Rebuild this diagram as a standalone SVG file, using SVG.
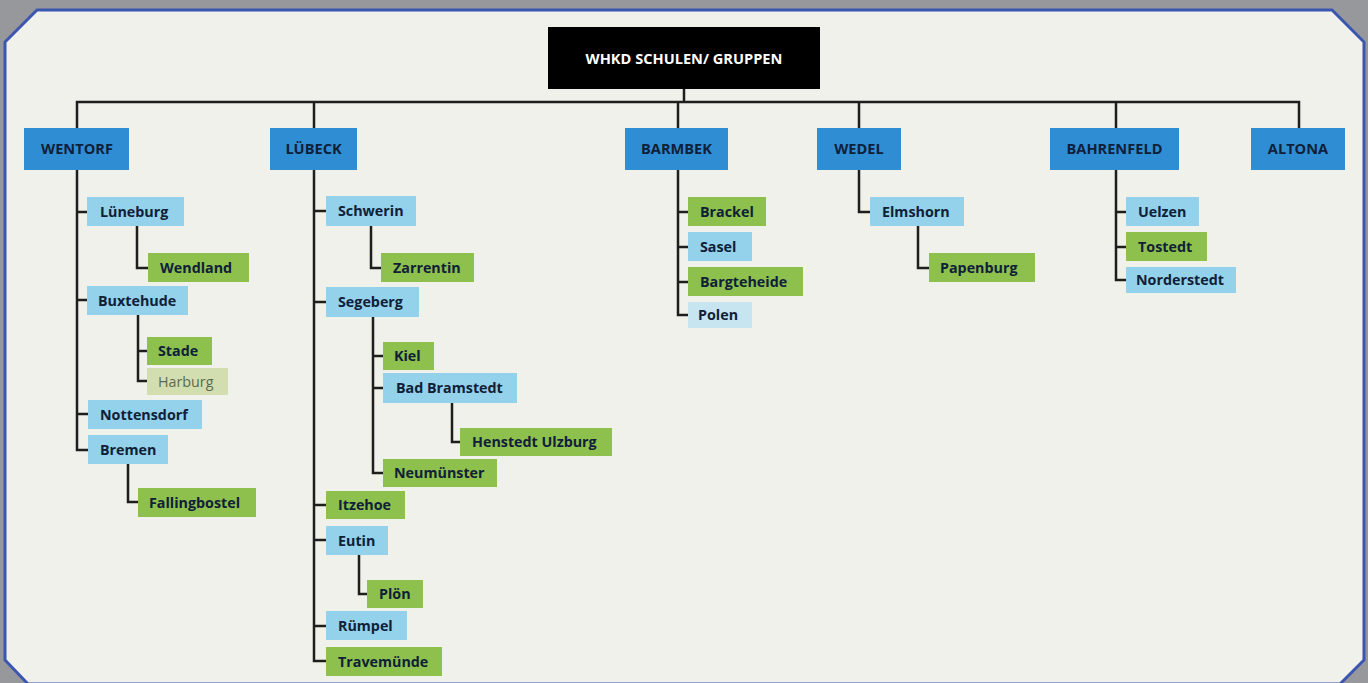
<svg xmlns="http://www.w3.org/2000/svg" width="1368" height="683" viewBox="0 0 1368 683">
<style>
.top{fill:#2f8dd4}
.lb{fill:#93d2ea}
.gr{fill:#8dc04c}
.pg{fill:#d2deb0}
.pb{fill:#c6e5f1}
.t{font-family:"Open Sans","Liberation Sans",sans-serif;font-weight:bold;font-size:14.3px;fill:#102038}
.th{font-family:"Open Sans","Liberation Sans",sans-serif;font-weight:bold;font-size:14.6px;fill:#102038;text-anchor:middle}
.tl{font-family:"Open Sans","Liberation Sans",sans-serif;font-size:14.3px;fill:#5a6a50}
.c{fill:none;stroke:#1e1e1e;stroke-width:2.5}
</style>
<rect width="1368" height="683" fill="#97989c"/>
<polygon points="37,10 1332,10 1364,42 1364,660 1340,684 28,684 5,660 5,42" fill="#f0f1ea" stroke="#3b56b0" stroke-width="3"/>

<g id="connectors" class="c">
<path d="M684,89 V102 M77,128 V102 H1299 V128 M314,102 V128 M678,102 V128 M859,102 V128 M1116,102 V128"/>
<path d="M77,170 V450 H88 M77,212 H87 M77,300 H87 M77,414 H88"/>
<path d="M137,226 V268 H148"/>
<path d="M138,314 V381 H147 M138,351 H147"/>
<path d="M128,464 V502 H138"/>
<path d="M314,170 V661 H326 M314,211 H326 M314,302 H326 M314,505 H326 M314,540 H326 M314,626 H326"/>
<path d="M371,226 V268 H381"/>
<path d="M373,317 V473 H383 M373,356 H383 M373,388 H383"/>
<path d="M452,403 V442 H460"/>
<path d="M359,555 V594 H367"/>
<path d="M678,170 V315 H688 M678,212 H688 M678,247 H688 M678,282 H688"/>
<path d="M859,170 V212 H870"/>
<path d="M918,226 V268 H929"/>
<path d="M1116,170 V280 H1126 M1116,212 H1126 M1116,247 H1126"/>
</g>

<g id="root"><rect x="548" y="27" width="272" height="62" fill="#000"/><text x="684" y="64" font-family="'Open Sans','Liberation Sans',sans-serif" font-weight="bold" font-size="14.6" fill="#fff" text-anchor="middle">WHKD SCHULEN/ GRUPPEN</text></g>

<g id="wentorf"><rect class="top" x="24" y="128" width="105" height="42"/><text class="th" x="77" y="154">WENTORF</text></g>
<g id="luebeck"><rect class="top" x="270" y="128" width="87" height="42"/><text class="th" x="313.5" y="154">LÜBECK</text></g>
<g id="barmbek"><rect class="top" x="625" y="128" width="103" height="42"/><text class="th" x="676.5" y="154">BARMBEK</text></g>
<g id="wedel"><rect class="top" x="817" y="128" width="84" height="42"/><text class="th" x="859" y="154">WEDEL</text></g>
<g id="bahrenfeld"><rect class="top" x="1050" y="128" width="129" height="42"/><text class="th" x="1114.5" y="154">BAHRENFELD</text></g>
<g id="altona"><rect class="top" x="1251" y="128" width="94" height="42"/><text class="th" x="1298" y="154">ALTONA</text></g>

<g id="lueneburg"><rect class="lb" x="87" y="197" width="97" height="29"/><text class="t" x="100" y="216.5">Lüneburg</text></g>
<g id="wendland"><rect class="gr" x="148" y="253" width="101" height="29"/><text class="t" x="160" y="272.5">Wendland</text></g>
<g id="buxtehude"><rect class="lb" x="87" y="286" width="101" height="29"/><text class="t" x="98" y="305.5">Buxtehude</text></g>
<g id="stade"><rect class="gr" x="147" y="337" width="65" height="28"/><text class="t" x="158" y="356">Stade</text></g>
<g id="harburg"><rect class="pg" x="147" y="368" width="81" height="27"/><text class="tl" x="158" y="386.5">Harburg</text></g>
<g id="nottensdorf"><rect class="lb" x="88" y="400" width="114" height="29"/><text class="t" x="100" y="419.5">Nottensdorf</text></g>
<g id="bremen"><rect class="lb" x="88" y="435" width="80" height="29"/><text class="t" x="100" y="454.5">Bremen</text></g>
<g id="fallingbostel"><rect class="gr" x="138" y="488" width="118" height="29"/><text class="t" x="149" y="507.5">Fallingbostel</text></g>

<g id="schwerin"><rect class="lb" x="326" y="196" width="90" height="30"/><text class="t" x="338" y="216">Schwerin</text></g>
<g id="zarrentin"><rect class="gr" x="381" y="253" width="93" height="29"/><text class="t" x="393" y="272.5">Zarrentin</text></g>
<g id="segeberg"><rect class="lb" x="326" y="287" width="93" height="30"/><text class="t" x="338" y="307">Segeberg</text></g>
<g id="kiel"><rect class="gr" x="383" y="342" width="51" height="28"/><text class="t" x="394" y="361">Kiel</text></g>
<g id="badbramstedt"><rect class="lb" x="383" y="373" width="134" height="30"/><text class="t" x="396" y="393">Bad Bramstedt</text></g>
<g id="henstedt"><rect class="gr" x="460" y="428" width="152" height="28"/><text class="t" x="472" y="447">Henstedt Ulzburg</text></g>
<g id="neumuenster"><rect class="gr" x="383" y="459" width="114" height="28"/><text class="t" x="394" y="478">Neumünster</text></g>
<g id="itzehoe"><rect class="gr" x="326" y="491" width="79" height="28"/><text class="t" x="338" y="510">Itzehoe</text></g>
<g id="eutin"><rect class="lb" x="326" y="526" width="62" height="29"/><text class="t" x="338" y="545.5">Eutin</text></g>
<g id="ploen"><rect class="gr" x="367" y="580" width="56" height="28"/><text class="t" x="379" y="599">Plön</text></g>
<g id="ruempel"><rect class="lb" x="326" y="611" width="81" height="29"/><text class="t" x="338" y="630.5">Rümpel</text></g>
<g id="travemuende"><rect class="gr" x="326" y="647" width="116" height="29"/><text class="t" x="338" y="666.5">Travemünde</text></g>

<g id="brackel"><rect class="gr" x="688" y="197" width="78" height="29"/><text class="t" x="700" y="216.5">Brackel</text></g>
<g id="sasel"><rect class="lb" x="688" y="232" width="64" height="29"/><text class="t" x="700" y="251.5">Sasel</text></g>
<g id="bargteheide"><rect class="gr" x="688" y="267" width="115" height="29"/><text class="t" x="700" y="286.5">Bargteheide</text></g>
<g id="polen"><rect class="pb" x="688" y="302" width="64" height="26"/><text class="t" x="698" y="320">Polen</text></g>

<g id="elmshorn"><rect class="lb" x="870" y="197" width="94" height="29"/><text class="t" x="882" y="216.5">Elmshorn</text></g>
<g id="papenburg"><rect class="gr" x="929" y="253" width="106" height="29"/><text class="t" x="940" y="272.5">Papenburg</text></g>

<g id="uelzen"><rect class="lb" x="1126" y="197" width="73" height="29"/><text class="t" x="1138" y="216.5">Uelzen</text></g>
<g id="tostedt"><rect class="gr" x="1126" y="232" width="81" height="29"/><text class="t" x="1138" y="251.5">Tostedt</text></g>
<g id="norderstedt"><rect class="lb" x="1126" y="267" width="110" height="26"/><text class="t" x="1136" y="285">Norderstedt</text></g>
</svg>
